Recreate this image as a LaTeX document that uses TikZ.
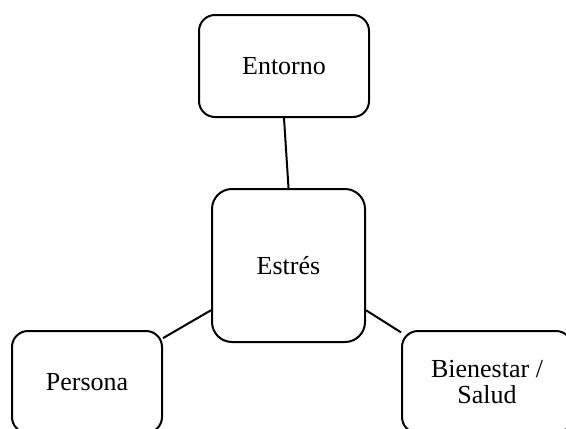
\documentclass[tikz,border=0pt]{standalone}
\usepackage{fontspec}
\setmainfont{Liberation Serif}
\usepackage{tikz}

\begin{document}
\begin{tikzpicture}[x=0.5pt, y=-0.5pt,
  caja/.style={draw, line width=1pt, rounded corners=8pt, align=center,
    inner sep=0pt, font=\fontsize{13}{13}\selectfont}]
\clip (0,0) rectangle (566,428);
\node[caja, minimum width=85pt, minimum height=51pt] (entorno) at (284,66) {Entorno};
\node[caja, minimum width=76.5pt, minimum height=76.5pt, rounded corners=10pt] (estres) at (288.5,265.5) {Estrés};
\node[caja, minimum width=75pt, minimum height=51pt] (persona) at (87,382) {Persona};
\node[caja, minimum width=85pt, minimum height=51pt] (bienestar) at (487,382) {Bienestar /\\ Salud};
\draw[line width=1pt] (entorno.south)--(estres.north);
\draw[line width=1pt] (persona.30)--(estres.210);
\draw[line width=1pt] (estres.-30)--(bienestar.150);
\end{tikzpicture}
\end{document}
